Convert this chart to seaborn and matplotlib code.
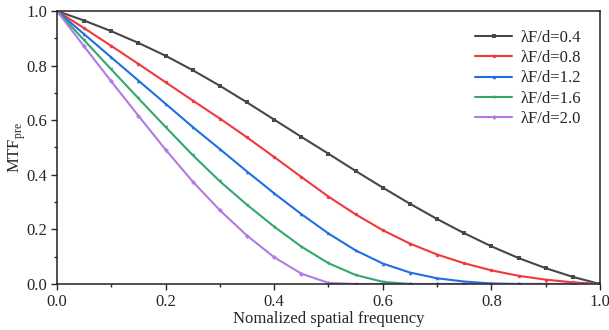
import numpy as np
import pandas as pd
import matplotlib
matplotlib.use("Agg")
import matplotlib.pyplot as plt
import seaborn as sns
from matplotlib.ticker import MultipleLocator

# --- DATA ---
freq = [0.00, 0.05, 0.10, 0.15, 0.20, 0.25, 0.30, 0.35, 0.40, 0.45, 0.50,
        0.55, 0.60, 0.65, 0.70, 0.75, 0.80, 0.85, 0.90, 0.95, 1.00]

mtf_04 = [1.000, 0.965, 0.926, 0.883, 0.836, 0.783, 0.726, 0.665, 0.602, 0.539, 0.477,
          0.414, 0.353, 0.294, 0.238, 0.186, 0.138, 0.095, 0.058, 0.026, 0.000]
mtf_08 = [1.000, 0.937, 0.872, 0.806, 0.739, 0.672, 0.606, 0.537, 0.465, 0.392, 0.320,
          0.255, 0.197, 0.148, 0.108, 0.076, 0.050, 0.030, 0.016, 0.006, 0.000]
mtf_12 = [1.000, 0.915, 0.830, 0.745, 0.660, 0.575, 0.494, 0.412, 0.332, 0.256, 0.185,
          0.123, 0.075, 0.042, 0.021, 0.009, 0.002, 0.000, 0.000, 0.000, 0.000]
mtf_16 = [1.000, 0.893, 0.786, 0.680, 0.575, 0.472, 0.376, 0.290, 0.210, 0.137, 0.076,
          0.033, 0.008, 0.000, 0.000, 0.000, 0.000, 0.000, 0.000, 0.000, 0.000]
mtf_20 = [1.000, 0.870, 0.742, 0.616, 0.492, 0.375, 0.270, 0.177, 0.098, 0.038, 0.004,
          0.000, 0.000, 0.000, 0.000, 0.000, 0.000, 0.000, 0.000, 0.000, 0.000]

labels = ["λF/d=0.4", "λF/d=0.8", "λF/d=1.2", "λF/d=1.6", "λF/d=2.0"]
series = [mtf_04, mtf_08, mtf_12, mtf_16, mtf_20]

# --- STYLE ---
COLORS = ['#474747', '#f03a3a', '#1f6fe3', '#33a86a', '#b07be3']
MARKERS = ['s', 'o', '^', 'v', 'D']

sns.set_style("ticks")
plt.rcParams['font.family'] = ['Liberation Serif', 'DejaVu Serif']
plt.rcParams['mathtext.fontset'] = 'custom'
plt.rcParams['mathtext.rm'] = 'Liberation Serif'

records = []
for lab, vals in zip(labels, series):
    for f, v in zip(freq, vals):
        records.append({'freq': f, 'mtf': v, 'case': lab})
df = pd.DataFrame(records)

fig = plt.figure(figsize=(6.09, 3.30), dpi=100)
ax = fig.add_axes([0.0936, 0.1394, 0.8916, 0.8273])

sns.lineplot(data=df, x='freq', y='mtf', hue='case', style='case',
             palette=COLORS, markers=MARKERS, dashes=False,
             linewidth=1.5, markersize=2.5, markeredgewidth=0, ax=ax)

ax.set_xlim(0, 1)
ax.set_ylim(0, 1)
ax.xaxis.set_major_locator(MultipleLocator(0.2))
ax.xaxis.set_minor_locator(MultipleLocator(0.1))
ax.yaxis.set_major_locator(MultipleLocator(0.2))
ax.yaxis.set_minor_locator(MultipleLocator(0.1))
ax.tick_params(which='major', direction='out', length=4, width=1, labelsize=12, pad=3)
ax.tick_params(which='minor', direction='out', length=2.5, width=1)
ax.tick_params(top=False, right=False, which='both')
for s in ax.spines.values():
    s.set_linewidth(1.1)
    s.set_color('#222222')

ax.set_xlabel("Nomalized spatial frequency", fontsize=12, labelpad=1)
ax.set_ylabel(r"MTF$_{\rm pre}$", fontsize=12, labelpad=-1)

leg = ax.legend(loc='upper right', frameon=False, fontsize=12,
                handlelength=2.2, handletextpad=0.55, labelspacing=0.25,
                bbox_to_anchor=(0.994, 0.985))

fig.savefig("out.png", dpi=100)
